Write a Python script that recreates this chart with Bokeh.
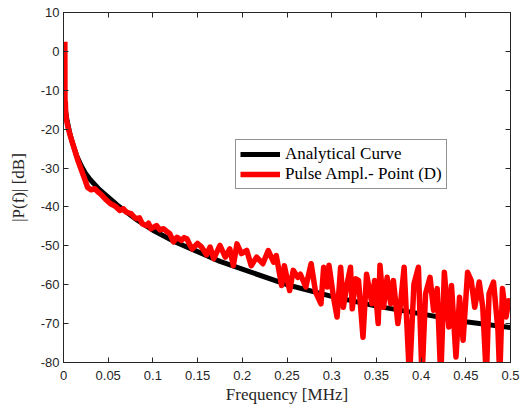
from bokeh.plotting import figure
from bokeh.models import LinearAxis, FixedTicker, Range1d, Legend, LegendItem
from bokeh.embed import file_html
from bokeh.resources import INLINE

# Analytical curve (MHz, dB)
analytic_f = [0.0008, 0.002, 0.004, 0.007, 0.01, 0.015, 0.02, 0.025, 0.03, 0.04, 0.05,
              0.06, 0.08, 0.1, 0.125, 0.15, 0.175, 0.2, 0.25, 0.3, 0.35, 0.4, 0.45, 0.5]
analytic_db = [-12.5, -15.0, -17.8, -21.0, -23.5, -27.0, -29.5, -31.5, -33.0, -35.5, -37.5,
               -39.5, -43.0, -46.0, -49.0, -51.5, -54.0, -56.0, -60.0, -63.0, -65.5, -67.5, -69.5, -71.0]

# Pulse amplitude - point (D)
pulse_f = [0.0015, 0.0017, 0.0020, 0.0025, 0.0032, 0.005, 0.008, 0.012, 0.016, 0.020, 0.024, 0.027,
           0.031, 0.035, 0.039, 0.043, 0.047, 0.0526, 0.058, 0.063, 0.067, 0.070, 0.076, 0.079,
           0.082, 0.085, 0.088, 0.0925, 0.095, 0.098, 0.104, 0.108, 0.112, 0.116, 0.119, 0.123,
           0.127, 0.132, 0.135, 0.138, 0.141, 0.144, 0.150, 0.154, 0.157, 0.160, 0.164, 0.168,
           0.175, 0.181, 0.186, 0.190, 0.194, 0.199, 0.205, 0.210, 0.216, 0.223, 0.229, 0.235,
           0.238, 0.244, 0.247, 0.253, 0.257, 0.262, 0.265, 0.271, 0.277, 0.282, 0.288, 0.291,
           0.295, 0.297, 0.302, 0.306, 0.310, 0.313, 0.317, 0.321, 0.323, 0.327, 0.330, 0.335,
           0.339, 0.345, 0.348, 0.352, 0.354, 0.358, 0.362, 0.366, 0.369, 0.374, 0.377, 0.381,
           0.387, 0.392, 0.397, 0.401, 0.405, 0.410, 0.414, 0.418, 0.422, 0.426, 0.431, 0.434,
           0.439, 0.443, 0.447, 0.452, 0.456, 0.460, 0.465, 0.469, 0.473, 0.476, 0.481, 0.486,
           0.488, 0.491, 0.495, 0.498, 0.500]
pulse_db = [2.5, -17.5, -13.0, -16.0, -17.5, -19.5, -22.0, -25.0, -28.0, -30.5, -33.0, -35.0,
            -35.6, -35.3, -36.2, -37.0, -38.0, -39.2, -39.8, -40.9, -40.5, -41.3, -41.8, -42.6,
            -43.0, -42.8, -44.3, -44.8, -44.2, -45.6, -44.8, -45.9, -45.6, -46.4, -46.9, -49.0,
            -47.8, -48.6, -47.9, -48.2, -49.6, -50.8, -49.4, -50.2, -51.2, -52.3, -50.3, -53.3,
            -49.9, -52.9, -50.8, -55.1, -49.5, -52.0, -51.2, -55.1, -52.9, -54.6, -51.2, -54.2,
            -52.5, -60.2, -55.1, -61.5, -56.3, -58.1, -57.3, -60.6, -54.6, -61.9, -64.9, -55.5,
            -60.6, -55.0, -63.2, -68.3, -55.5, -65.8, -60.0, -55.5, -66.2, -58.5, -58.9, -73.5,
            -57.3, -64.9, -58.9, -70.0, -55.0, -65.8, -58.1, -64.9, -58.9, -70.0, -64.9, -55.5,
            -84.0, -59.8, -55.5, -84.0, -62.3, -58.1, -66.6, -61.0, -84.0, -56.8, -70.9, -60.2,
            -78.6, -63.2, -74.3, -56.8, -58.9, -65.8, -59.3, -65.8, -84.0, -62.3, -59.3, -71.8,
            -84.0, -61.0, -68.3, -64.1, -65.0]

x_ticks = [0, 0.05, 0.1, 0.15, 0.2, 0.25, 0.3, 0.35, 0.4, 0.45, 0.5]
x_tick_labels = ["0", "0.05", "0.1", "0.15", "0.2", "0.25", "0.3", "0.35", "0.4", "0.45", "0.5"]
y_ticks = [-80, -70, -60, -50, -40, -30, -20, -10, 0, 10]
y_tick_labels = ["-80", "-70", "-60", "-50", "-40", "-30", "-20", "-10", "0", "10"]

AX = "#262626"
SERIF = "Liberation Serif"
SANS = "Liberation Sans"

p = figure(width=526, height=409, x_range=Range1d(0, 0.5), y_range=Range1d(-80, 10),
           output_backend="svg", toolbar_location=None,
           min_border_left=63, min_border_right=16, min_border_top=12, min_border_bottom=47)
p.background_fill_color = "white"
p.border_fill_color = "white"
p.grid.visible = False
p.outline_line_color = AX
p.outline_line_width = 1

def style_axis(ax, ticks, labels=None):
    ax.ticker = FixedTicker(ticks=ticks)
    ax.major_tick_in = 5
    ax.major_tick_out = 0
    ax.minor_tick_in = 0
    ax.minor_tick_out = 0
    ax.axis_line_color = AX
    ax.major_tick_line_color = AX
    if labels is not None:
        ax.major_label_overrides = {t: l for t, l in zip(ticks, labels)}
        ax.major_label_text_color = AX
        ax.major_label_text_font = SANS
        ax.major_label_text_font_size = "13px"
    else:
        ax.major_label_text_color = None
        ax.major_label_text_font_size = "1px"
        ax.major_label_standoff = 0

xa = p.xaxis[0]
ya = p.yaxis[0]
style_axis(xa, x_ticks, x_tick_labels)
style_axis(ya, y_ticks, y_tick_labels)
xa.major_label_standoff = 8
ya.major_label_standoff = 4
xa.axis_label = "Frequency [MHz]"
ya.axis_label = "|P(f)| [dB]"
for a in (xa, ya):
    a.axis_label_text_font = SERIF
    a.axis_label_text_font_size = "17px"
    a.axis_label_text_font_style = "normal"
    a.axis_label_text_color = AX
xa.axis_label_standoff = 2
ya.axis_label_standoff = 10

top = LinearAxis()
style_axis(top, x_ticks)
p.add_layout(top, "above")
right = LinearAxis()
style_axis(right, y_ticks)
p.add_layout(right, "right")

r1 = p.line(analytic_f, analytic_db, line_color="black", line_width=5, line_join="round")
r2 = p.line(pulse_f, pulse_db, line_color="#ff0000", line_width=5.5, line_join="round")

legend = Legend(items=[LegendItem(label="Analytical Curve", renderers=[r1]),
                       LegendItem(label="Pulse Ampl.- Point (D)", renderers=[r2])],
                location=(172, 173))
legend.glyph_width = 40
legend.glyph_height = 20
legend.label_height = 20
legend.label_standoff = 5
legend.padding = 4
legend.spacing = 0
legend.margin = 0
legend.border_line_color = AX
legend.border_line_width = 1
legend.label_text_font = SERIF
legend.label_text_font_size = "17px"
legend.label_text_color = "black"
legend.background_fill_color = "white"
p.add_layout(legend)

open("out.html", "w").write(file_html(p, INLINE))
